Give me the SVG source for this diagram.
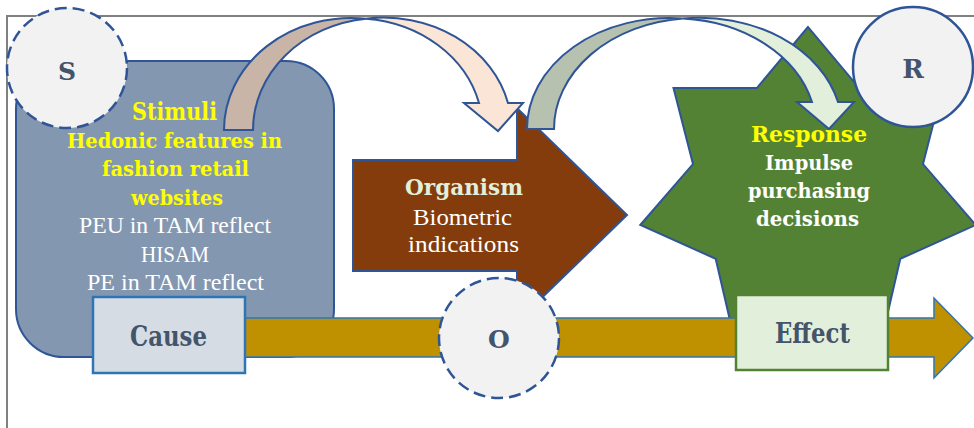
<svg xmlns="http://www.w3.org/2000/svg" width="974" height="428" viewBox="0 0 974 428">
<style>
.ol{stroke:#2f5597;stroke-width:2;stroke-linejoin:miter}
.circ{fill:#f2f2f2;stroke:#2f5597;stroke-width:2.5}
.dash{stroke-dasharray:12 6}
.b{font-family:"DejaVu Serif","Liberation Serif",serif;font-weight:bold}
.r{font-family:"Liberation Serif","DejaVu Serif",serif}
.lbl{fill:#44546a}
.yel{fill:#ffff00}
.wht{fill:#ffffff}
</style>
<g id="frame">
<rect x="7" y="16" width="980" height="430" fill="#ffffff" stroke="#808080" stroke-width="2"/>
</g>
<g id="stimuli">
<rect x="16" y="61" width="318" height="296" rx="48" ry="48" fill="#8497b0" class="ol"/>
<text class="b yel" x="132" y="120" font-size="25" textLength="85" lengthAdjust="spacingAndGlyphs">Stimuli</text>
<text class="b yel" x="67" y="148" font-size="20.5" textLength="215" lengthAdjust="spacingAndGlyphs">Hedonic features in</text>
<text class="b yel" x="102" y="176" font-size="20.5" textLength="147" lengthAdjust="spacingAndGlyphs">fashion retail</text>
<text class="b yel" x="131" y="205" font-size="20.5" textLength="92" lengthAdjust="spacingAndGlyphs">websites</text>
<text class="r wht" x="79" y="233" font-size="23.5" textLength="192" lengthAdjust="spacingAndGlyphs">PEU in TAM reflect</text>
<text class="r wht" x="141" y="262" font-size="23.5" textLength="68" lengthAdjust="spacingAndGlyphs">HISAM</text>
<text class="r wht" x="87" y="290" font-size="23.5" textLength="177" lengthAdjust="spacingAndGlyphs">PE in TAM reflect</text>
</g>
<g id="response">
<polygon points="808,27 756.8,88.1 673.5,88 693,164.1 640.3,225 715.7,258.8 733.4,335 808,301 882.6,335 900.3,258.8 975.7,225 923,164.1 942.5,88 859.2,88.1" fill="#548235" class="ol"/>
<text class="b yel" x="751" y="142" font-size="22.5" textLength="116" lengthAdjust="spacingAndGlyphs">Response</text>
<text class="b wht" x="765" y="170" font-size="20.5" textLength="88" lengthAdjust="spacingAndGlyphs">Impulse</text>
<text class="b wht" x="748" y="198" font-size="20.5" textLength="122" lengthAdjust="spacingAndGlyphs">purchasing</text>
<text class="b wht" x="756" y="226" font-size="20.5" textLength="103" lengthAdjust="spacingAndGlyphs">decisions</text>
</g>
<g id="organism">
<polygon points="353,160 517,160 517,108 627,215 517,322 517,271 353,271" fill="#843c0c" class="ol"/>
<text class="b" fill="#e2efda" x="405" y="195" font-size="22" textLength="118" lengthAdjust="spacingAndGlyphs">Organism</text>
<text class="r wht" x="413" y="225" font-size="23" textLength="99" lengthAdjust="spacingAndGlyphs">Biometric</text>
<text class="r wht" x="408" y="252" font-size="23" textLength="111" lengthAdjust="spacingAndGlyphs">indications</text>
</g>
<g id="connectors">
<path d="M224,130 A127.5,112 0 0 1 366,18.7 A127.5,112 0 0 0 253,130 Z" fill="#c9b5a7" class="ol"/>
<path d="M366,18.7 A128,112 0 0 1 508,103 L523,103 L498,131 L464,103 L479,103 A128,112 0 0 0 366,18.7 Z" fill="#fbe5d6" class="ol"/>
<path d="M527,129 A142.5,111 0 0 1 682.75,18.5 A142.5,111 0 0 0 554,129 Z" fill="#b6c2af" class="ol"/>
<path d="M682.75,18.5 A142.5,111 0 0 1 838,102 L854,102 L829,129 L797,102 L812,102 A142.5,111 0 0 0 682.75,18.5 Z" fill="#e2efda" class="ol"/>
<path d="M240,318 L934,318 L934,298 L973,338 L934,378 L934,357 L240,357 Z" fill="#bf9000" stroke="#2e75b6" stroke-width="1.5"/>
</g>
<g id="S">
<circle cx="67" cy="68" r="60" class="circ dash"/>
<text class="b lbl" x="67" y="80" font-size="25" text-anchor="middle">S</text>
</g>
<g id="O">
<circle cx="499" cy="338" r="60" class="circ dash"/>
<text class="b lbl" x="499" y="348" font-size="25" text-anchor="middle">O</text>
</g>
<g id="R">
<circle cx="913" cy="67" r="60" class="circ"/>
<text class="b lbl" x="913" y="78" font-size="26" text-anchor="middle">R</text>
</g>
<g id="cause">
<rect x="93" y="297" width="152" height="76" fill="#d6dce4" stroke="#2e75b6" stroke-width="2.5"/>
<text class="b lbl" x="130" y="346" font-size="28" textLength="77" lengthAdjust="spacingAndGlyphs">Cause</text>
</g>
<g id="effect">
<rect x="736" y="295" width="152" height="75" fill="#e2efda" stroke="#548235" stroke-width="2.5"/>
<text class="b lbl" x="775" y="343" font-size="28" textLength="75" lengthAdjust="spacingAndGlyphs">Effect</text>
</g>
</svg>
